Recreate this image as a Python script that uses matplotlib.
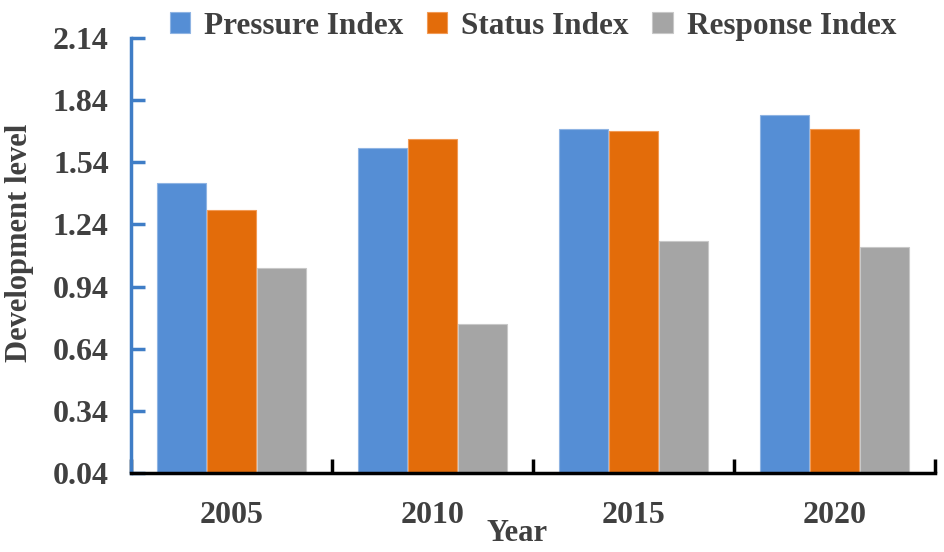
import matplotlib
matplotlib.use("Agg")
import matplotlib.pyplot as plt
import numpy as np

years = ["2005", "2010", "2015", "2020"]
pressure = [1.44, 1.61, 1.70, 1.77]
status = [1.31, 1.65, 1.69, 1.70]
response = [1.03, 0.76, 1.16, 1.13]
yticks = [0.04, 0.34, 0.64, 0.94, 1.24, 1.54, 1.84, 2.14]

plt.rcParams['font.family'] = ['Liberation Serif', 'DejaVu Serif']
plt.rcParams['font.weight'] = 'bold'
txt = '#404040'

fig = plt.figure(figsize=(9.45, 5.52), dpi=100)
ax = fig.add_axes([0.1386, 0.1431, 0.8508, 0.7881])

x = np.arange(len(years))
w = 0.245
bottom = yticks[0]
ax.bar(x - 0.25, np.array(pressure) - bottom, w, bottom=bottom, color='#558ed5',
       edgecolor='#8fb4e3', linewidth=0.8, label='Pressure Index')
ax.bar(x, np.array(status) - bottom, w, bottom=bottom, color='#e36c0a',
       edgecolor='#f29a55', linewidth=0.8, label='Status Index')
ax.bar(x + 0.25, np.array(response) - bottom, w, bottom=bottom, color='#a5a5a5',
       edgecolor='#c8c8c8', linewidth=0.8, label='Response Index')

ax.set_xlim(-0.5, 3.5)
ax.set_ylim(0.04, 2.14)
ax.set_yticks(yticks)
ax.set_yticklabels(['%.2f' % v for v in yticks])
ax.set_xticks(x)
ax.set_xticklabels(years)
ax.set_xticks(np.arange(-0.5, 3.6, 1.0), minor=True)

for s in ['top', 'right']:
    ax.spines[s].set_visible(False)
ax.spines['left'].set_color('#3f7dc6')
ax.spines['left'].set_linewidth(2.5)
ax.spines['bottom'].set_color('black')
ax.spines['bottom'].set_linewidth(2.5)

ax.tick_params(axis='y', direction='in', length=10, width=2.5, color='#3f7dc6',
               labelsize=23, labelcolor=txt, pad=16)
ax.tick_params(axis='x', which='major', length=0, labelsize=23, labelcolor=txt, pad=20)
ax.tick_params(axis='x', which='minor', direction='in', length=10, width=2.5, color='black')

ax.set_ylabel('Development level', fontsize=22, color=txt, fontweight='bold')
ax.yaxis.set_label_coords(-0.12, 0.528)
ax.set_xlabel('Year', fontsize=22, color=txt, fontweight='bold')
ax.xaxis.set_label_coords(0.48, -0.105)

fig.legend(loc='upper center', bbox_to_anchor=(0.564, 1.03), ncol=3, frameon=False,
           fontsize=22.5, labelcolor=txt, handlelength=0.65, handleheight=0.65,
           columnspacing=0.75, handletextpad=0.45)

fig.savefig('out.png', dpi=100)
